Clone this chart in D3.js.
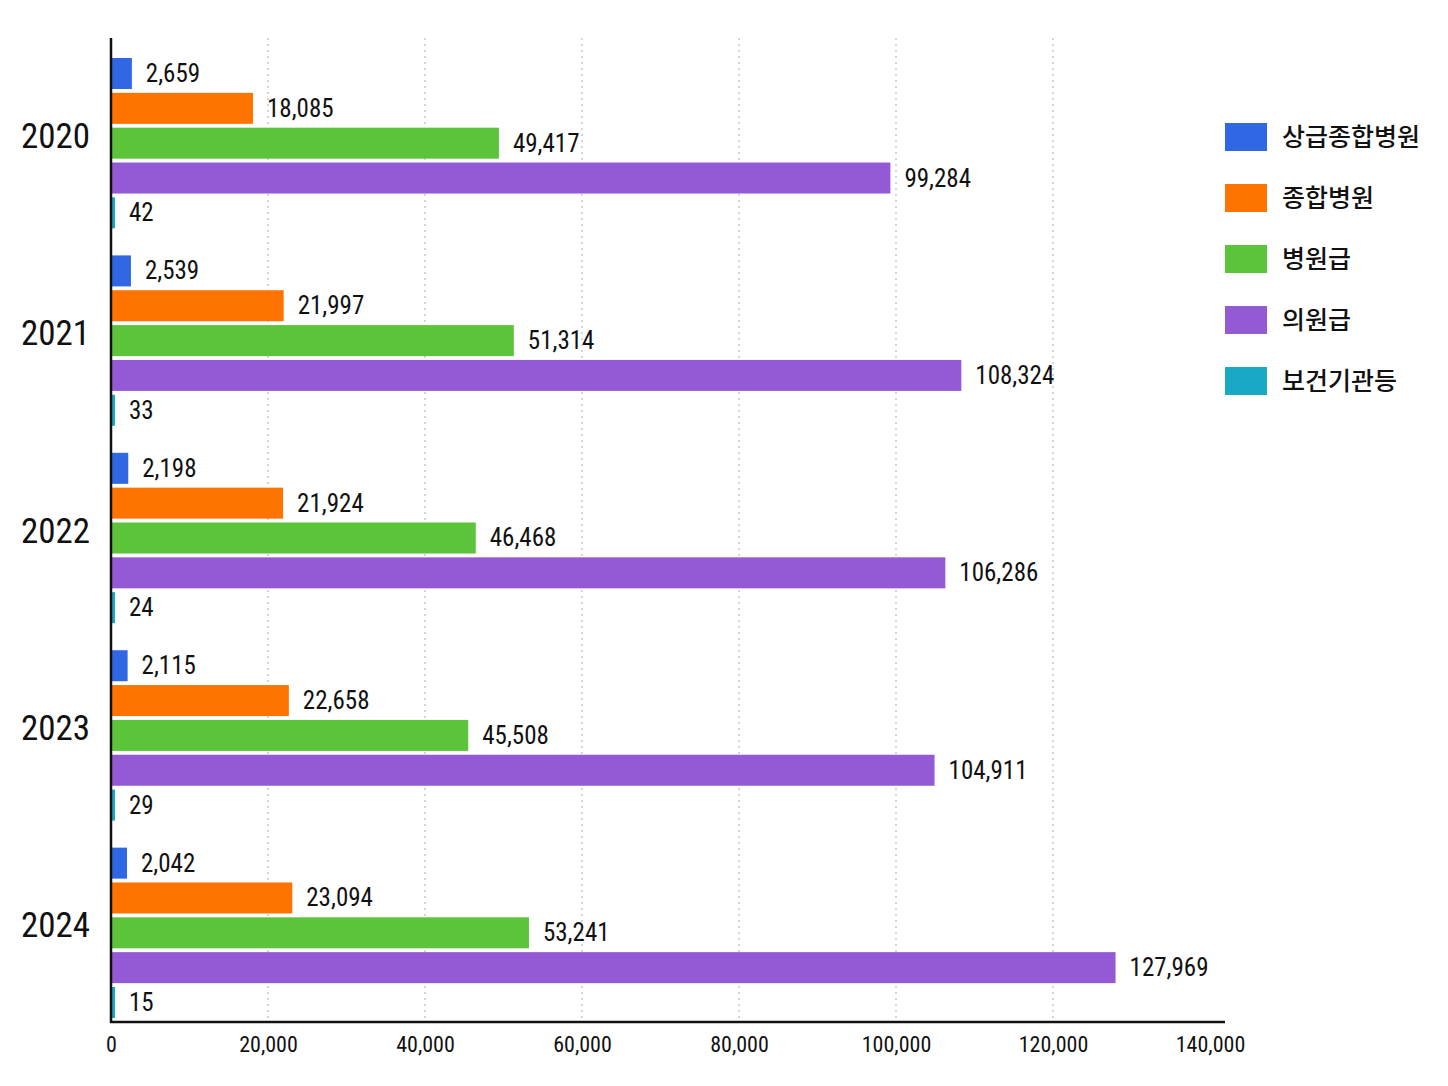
<!DOCTYPE html>
<html><head><meta charset="utf-8">
<script src="https://cdn.jsdelivr.net/npm/d3@7"></script>
<style>
html,body{margin:0;padding:0;background:#fff;}
.num{font-family:"Liberation Sans Narrow","Roboto Condensed","DejaVu Sans Condensed","Liberation Sans",sans-serif;}
.kr{font-family:"Noto Sans CJK KR","Noto Sans",sans-serif;}
</style></head>
<body>
<svg id="c" width="1448" height="1086"></svg>
<script>
const years = ["2020","2021","2022","2023","2024"];
const seriesNames = ["상급종합병원","종합병원","병원급","의원급","보건기관등"];
const seriesColors = ["#2f68e2","#ff7400","#5cc43a","#9459d4","#19a9c4"];
const values = {
  "상급종합병원": [2659, 2539, 2198, 2115, 2042],
  "종합병원":     [18085, 21997, 21924, 22658, 23094],
  "병원급":       [49417, 51314, 46468, 45508, 53241],
  "의원급":       [99284, 108324, 106286, 104911, 127969],
  "보건기관등":   [42, 33, 24, 29, 15]
};
const xTicks = [0, 20000, 40000, 60000, 80000, 100000, 120000, 140000];

const svg = d3.select("#c");
const fmt = d3.format(",");
const x = d3.scaleLinear().domain([0, 140000]).range([111, 1210]);
const y0 = d3.scaleBand().domain(years).range([58, 1018]).paddingInner(0.137).paddingOuter(0);
const y1 = d3.scaleBand().domain(seriesNames).range([0, y0.bandwidth()]).paddingInner(0.11).paddingOuter(0);
const axisTop = 38, axisBottom = 1022;

// gridlines (no line at the last tick)
svg.append("g").selectAll("line").data(xTicks.filter(d => d > 0 && d < 140000)).join("line")
  .attr("x1", d => x(d)).attr("x2", d => x(d))
  .attr("y1", axisTop).attr("y2", axisBottom)
  .attr("stroke", "#c4c4c4").attr("stroke-width", 1.4).attr("stroke-dasharray", "2,4");

// bars
const groups = svg.append("g").selectAll("g").data(years).join("g")
  .attr("transform", d => `translate(0,${y0(d)})`);
groups.each(function(yr, i) {
  const g = d3.select(this);
  const rows = seriesNames.map((s, k) => ({s, v: values[s][i], c: seriesColors[k]}));
  g.selectAll("rect").data(rows).join("rect")
    .attr("x", x(0)).attr("y", d => y1(d.s))
    .attr("width", d => Math.max(x(d.v) - x(0), 4))
    .attr("height", y1.bandwidth())
    .attr("fill", d => d.c);
  g.selectAll("text").data(rows).join("text")
    .attr("class", "num")
    .attr("x", d => Math.max(x(d.v), x(0) + 4) + 14)
    .attr("y", d => y1(d.s) + y1.bandwidth() / 2)
    .attr("dy", "0.34em")
    .attr("font-size", 25)
    .attr("fill", "#111")
    .text(d => fmt(d.v));
});

// year labels
svg.append("g").selectAll("text").data(years).join("text")
  .attr("class", "num")
  .attr("x", 90).attr("y", d => y0(d) + y0.bandwidth() / 2 - 8)
  .attr("dy", "0.36em").attr("text-anchor", "end")
  .attr("font-size", 35).attr("fill", "#111").text(d => d);

// axes lines
svg.append("line").attr("x1", x(0)).attr("x2", x(0)).attr("y1", axisTop).attr("y2", axisBottom + 1)
  .attr("stroke", "#111").attr("stroke-width", 2.5);
svg.append("line").attr("x1", x(0) - 1).attr("x2", 1225).attr("y1", axisBottom).attr("y2", axisBottom)
  .attr("stroke", "#111").attr("stroke-width", 2.5);

// x tick labels
const xa = svg.append("g").attr("transform", `translate(0,${axisBottom})`)
  .call(d3.axisBottom(x).tickValues(xTicks).tickFormat(fmt).tickSize(0).tickPadding(14));
xa.select(".domain").remove();
xa.selectAll("text").attr("class", "num").attr("font-size", 22).attr("fill", "#111")
  .style("font-family", '"Liberation Sans Narrow","Roboto Condensed","DejaVu Sans Condensed",sans-serif');

// legend
const leg = svg.append("g").attr("transform", "translate(1225,123)");
const li = leg.selectAll("g").data(seriesNames).join("g")
  .attr("transform", (d, i) => `translate(0,${i * 61})`);
li.append("rect").attr("width", 42).attr("height", 28).attr("fill", (d, i) => seriesColors[i]);
li.append("text").attr("class", "kr").attr("x", 57).attr("y", 14).attr("dy", "0.36em")
  .attr("font-size", 25).attr("font-weight", 500).attr("fill", "#111").text(d => d);
</script>
</body></html>
